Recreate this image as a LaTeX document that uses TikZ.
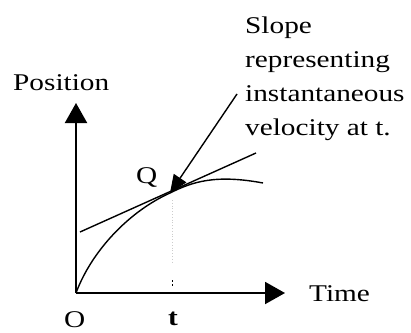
\documentclass[tikz,border=0pt]{standalone}
\usepackage{fontspec}
\setmainfont[FakeStretch=1.22]{Liberation Serif}
\usetikzlibrary{arrows.meta}
\begin{document}
\begin{tikzpicture}[x=1pt,y=-1pt,
  lbl/.style={inner sep=0pt,anchor=base west,font=\fontsize{24}{34}\selectfont},
  axis/.style={line width=2pt,-{Triangle[length=20pt,width=22pt]}},
  thin/.style={line width=1.4pt}]
\useasboundingbox (0,0) rectangle (411,332);
\coordinate (O) at (76,293);
\coordinate (Q) at (170,193);
\coordinate (E) at (263,183);
\coordinate (Ytip) at (76,103);
\coordinate (Xtip) at (285,293);
\coordinate (T1) at (80,232);
\coordinate (T2) at (256,153);
\coordinate (A) at (237,94);
% axes
\draw[axis] (O) -- (Ytip);
\draw[axis] (O) -- (Xtip);
% curve
\draw[thin] (O) .. controls (92,250) and (130,211) .. (Q)
  .. controls (192,182) and (215,174) .. (E);
% tangent
\draw[thin] (T1) -- (T2);
% arrow
\draw[line width=1.4pt,-{Triangle[length=18pt,width=15pt]}] (A) -- (Q);
% faint guide
\draw[gray!40,line width=0.8pt,dotted] (172,200) -- (172,262);
\draw[line width=1pt] (172,280) -- (172,282) (172,284) -- (172,286);
% labels
\node[lbl] (pos) at (13,90) {Position};
\node[lbl] (time) at (309,301) {Time};
\node[lbl] (o) at (64,327) {O};
\node[lbl,font=\fontsize{24}{34}\selectfont\bfseries] (t) at (168,325) {t};
\node[lbl] (q) at (136,183) {Q};
\node[lbl,align=left,anchor=north west] (txt) at (245,17) {Slope\\representing\\instantaneous\\velocity at t.};
\end{tikzpicture}
\end{document}
